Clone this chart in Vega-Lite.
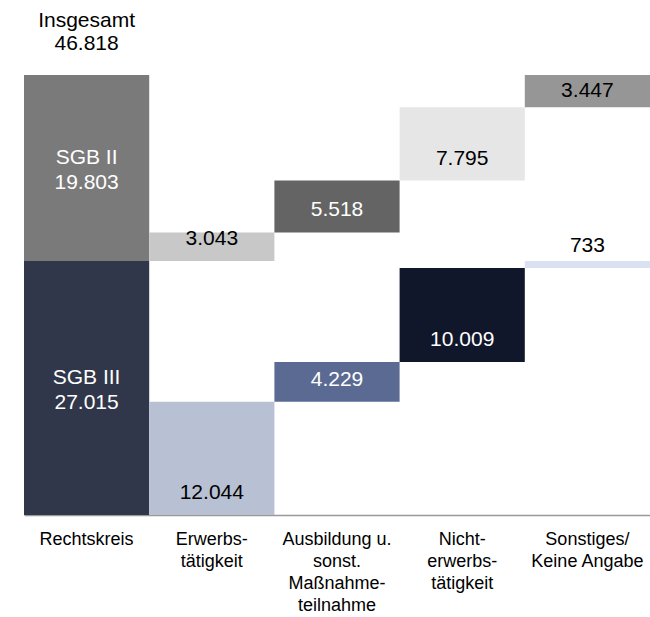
{
  "$schema": "https://vega.github.io/schema/vega-lite/v6.json",
  "autosize": "none",
  "width": 626,
  "height": 470,
  "padding": {"left": 24, "top": 45, "right": 0, "bottom": 102},
  "config": {
    "view": {"stroke": null},
    "font": "Liberation Sans",
    "text": {"font": "Liberation Sans"}
  },
  "datasets": {
    "bars": [
      {"cat": "Rechtskreis", "grp": "SGB III", "seg": "R-III", "start": 0, "end": 27015, "value": 27015},
      {"cat": "Rechtskreis", "grp": "SGB II", "seg": "R-II", "start": 27015, "end": 46818, "value": 19803},
      {"cat": "Erwerbs-|tätigkeit", "grp": "SGB III", "seg": "E-III", "start": 0, "end": 12044, "value": 12044},
      {"cat": "Erwerbs-|tätigkeit", "grp": "SGB II", "seg": "E-II", "start": 27015, "end": 30058, "value": 3043},
      {"cat": "Ausbildung u.|sonst.|Maßnahme-|teilnahme", "grp": "SGB III", "seg": "A-III", "start": 12044, "end": 16273, "value": 4229},
      {"cat": "Ausbildung u.|sonst.|Maßnahme-|teilnahme", "grp": "SGB II", "seg": "A-II", "start": 30058, "end": 35576, "value": 5518},
      {"cat": "Nicht-|erwerbs-|tätigkeit", "grp": "SGB III", "seg": "N-III", "start": 16273, "end": 26282, "value": 10009},
      {"cat": "Nicht-|erwerbs-|tätigkeit", "grp": "SGB II", "seg": "N-II", "start": 35576, "end": 43371, "value": 7795},
      {"cat": "Sonstiges/|Keine Angabe", "grp": "SGB III", "seg": "S-III", "start": 26282, "end": 27015, "value": 733},
      {"cat": "Sonstiges/|Keine Angabe", "grp": "SGB II", "seg": "S-II", "start": 43371, "end": 46818, "value": 3447}
    ]
  },
  "data": {"name": "bars"},
  "encoding": {
    "x": {
      "field": "cat",
      "type": "nominal",
      "sort": ["Rechtskreis", "Erwerbs-|tätigkeit", "Ausbildung u.|sonst.|Maßnahme-|teilnahme", "Nicht-|erwerbs-|tätigkeit", "Sonstiges/|Keine Angabe"],
      "scale": {"paddingInner": 0, "paddingOuter": 0},
      "axis": {
        "title": null,
        "labelAngle": 0,
        "ticks": false,
        "domainColor": "#999999",
        "domainWidth": 1.5,
        "labelExpr": "split(datum.label, '|')",
        "labelFont": "Liberation Sans",
        "labelFontSize": 18,
        "labelColor": "#000000",
        "labelLineHeight": 22,
        "labelPadding": 15,
        "labelBaseline": "top"
      }
    }
  },
  "layer": [
    {
      "mark": {"type": "bar"},
      "encoding": {
        "y": {"field": "start", "type": "quantitative", "scale": {"domain": [0, 50000]}, "axis": null},
        "y2": {"field": "end"},
        "color": {
          "field": "seg",
          "type": "nominal",
          "legend": null,
          "scale": {
            "domain": ["R-II", "R-III", "E-II", "E-III", "A-II", "A-III", "N-II", "N-III", "S-II", "S-III"],
            "range": ["#7a7a7a", "#30374b", "#c8c8c8", "#b8c0d4", "#646464", "#5b6a92", "#e6e6e6", "#11172b", "#969696", "#d9e1f2"]
          }
        }
      }
    },
    {
      "transform": [
        {"filter": "datum.cat != 'Rechtskreis' && datum.seg != 'S-II'"},
        {"calculate": "replace(format(datum.value, ','), ',', '.')", "as": "lbl"}
      ],
      "mark": {"type": "text", "fontSize": 21, "baseline": "middle", "dy": -22},
      "encoding": {
        "y": {"field": "start", "type": "quantitative"},
        "text": {"field": "lbl"},
        "color": {
          "condition": {"test": "indexof(['A-II','A-III','N-III'], datum.seg) >= 0", "value": "#ffffff"},
          "value": "#000000"
        }
      }
    },
    {
      "transform": [
        {"filter": "datum.seg == 'S-II'"},
        {"calculate": "replace(format(datum.value, ','), ',', '.')", "as": "lbl"}
      ],
      "mark": {"type": "text", "fontSize": 21, "baseline": "middle", "dy": -16, "color": "#000000"},
      "encoding": {
        "y": {"field": "start", "type": "quantitative"},
        "text": {"field": "lbl"}
      }
    },
    {
      "transform": [
        {"filter": "datum.cat == 'Rechtskreis'"},
        {"calculate": "(datum.start + datum.end) / 2", "as": "mid"},
        {"calculate": "datum.grp + '|' + replace(format(datum.value, ','), ',', '.')", "as": "lbl"}
      ],
      "mark": {"type": "text", "fontSize": 21, "baseline": "middle", "lineBreak": "|", "lineHeight": 25, "color": "#ffffff", "dy": -10},
      "encoding": {
        "y": {"field": "mid", "type": "quantitative"},
        "text": {"field": "lbl"}
      }
    },
    {
      "data": {"values": [{"cat": "Rechtskreis", "label": "Insgesamt", "total": 46818}]},
      "transform": [
        {"calculate": "datum.label + '|' + replace(format(datum.total, ','), ',', '.')", "as": "lbl"}
      ],
      "mark": {"type": "text", "fontSize": 21, "baseline": "bottom", "lineBreak": "|", "lineHeight": 23, "color": "#000000", "dy": -44},
      "encoding": {
        "y": {"field": "total", "type": "quantitative"},
        "text": {"field": "lbl"}
      }
    }
  ]
}
